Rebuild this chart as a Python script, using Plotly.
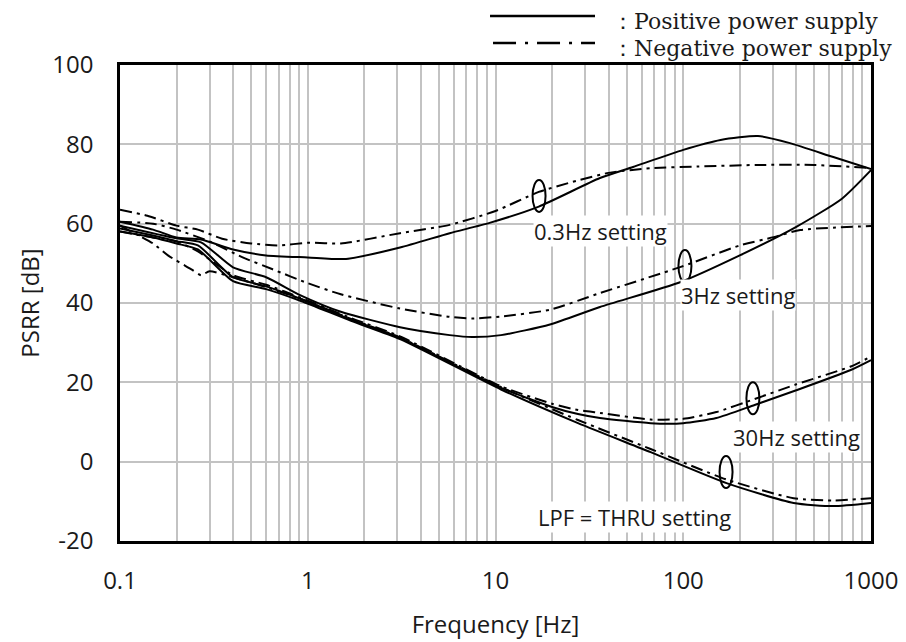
import math
import plotly.graph_objects as go

# ---------------- data ----------------
# 0.3 Hz setting
f_pos_03 = [0.1, 0.15, 0.2, 0.27, 0.4, 0.6, 1.0, 1.6, 3.1, 5.7, 9.3, 17, 36, 54, 100, 158, 250, 370, 630, 1000]
db_pos_03 = [60.5, 58.5, 56.5, 56.0, 53.5, 52.0, 51.5, 51.1, 54.0, 57.6, 60.2, 64.3, 71.5, 74.3, 78.6, 81.1, 82.1, 80.3, 76.8, 73.8]
f_neg_03 = [0.1, 0.14, 0.2, 0.26, 0.35, 0.5, 0.7, 1.0, 1.5, 3.1, 5.7, 10, 17, 27, 40, 67, 120, 250, 500, 1000]
db_neg_03 = [63.5, 62.0, 59.5, 58.5, 56.2, 55.0, 54.5, 55.2, 55.0, 57.6, 59.7, 63.2, 68.0, 70.8, 72.8, 74.0, 74.4, 74.8, 74.8, 74.0]

# 3 Hz setting
f_pos_3 = [0.1, 0.2, 0.27, 0.4, 0.6, 0.91, 1.5, 3.1, 5.7, 7.5, 10.7, 19.5, 36, 97, 200, 400, 700, 1000]
db_pos_3 = [59.5, 56.3, 55.3, 49.0, 46.5, 42.0, 37.8, 33.9, 31.9, 31.4, 31.9, 34.6, 39.0, 45.3, 52.0, 59.2, 66.3, 73.5]
f_neg_3 = [0.1, 0.15, 0.2, 0.3, 0.45, 0.65, 1.0, 1.5, 3.1, 5.7, 7.5, 10.7, 19.5, 36, 97, 200, 303, 420, 1000]
db_neg_3 = [60.5, 60.0, 58.5, 55.5, 51.5, 48.5, 45.0, 42.2, 38.6, 36.5, 36.1, 36.6, 38.3, 42.5, 49.1, 54.5, 56.6, 58.4, 59.4]

# 30 Hz setting
f_pos_30 = [0.1, 0.15, 0.2, 0.26, 0.4, 0.6, 0.92, 1.7, 3.1, 10.7, 20, 27.5, 36, 67, 100, 150, 240, 400, 780, 1000]
db_pos_30 = [58.8, 57.0, 55.6, 54.5, 46.5, 44.2, 41.0, 35.8, 31.2, 18.6, 13.8, 12.0, 11.0, 9.7, 9.7, 11.0, 14.3, 18.0, 23.1, 25.6]
f_neg_30 = [0.1, 0.15, 0.2, 0.26, 0.4, 0.6, 0.92, 1.7, 3.1, 10.7, 20, 27.5, 36, 67, 100, 150, 240, 400, 780, 1000]
db_neg_30 = [58.0, 56.5, 55.5, 53.0, 47.0, 44.6, 41.3, 36.2, 31.6, 19.0, 14.6, 13.0, 12.3, 10.6, 10.8, 12.5, 15.8, 19.5, 24.0, 26.5]

# LPF = THRU setting
f_pos_thru = [0.1, 0.15, 0.2, 0.26, 0.4, 0.6, 0.92, 1.7, 3.1, 10.7, 27.5, 67, 170, 387, 630, 1000]
db_pos_thru = [58.0, 56.5, 55.0, 53.5, 45.5, 43.5, 40.5, 35.5, 30.9, 18.2, 9.7, 2.4, -5.4, -10.4, -11.2, -10.4]
f_neg_thru = [0.1, 0.15, 0.18, 0.24, 0.27, 0.3, 0.4, 0.6, 0.92, 1.7, 3.1, 10.7, 27.5, 67, 170, 387, 630, 1000]
db_neg_thru = [59.5, 55.0, 52.0, 48.5, 47.0, 48.0, 46.5, 44.0, 41.0, 36.0, 31.3, 18.8, 10.5, 3.2, -4.5, -9.2, -9.8, -9.2]

x_tick_vals = [0.1, 1, 10, 100, 1000]
x_tick_text = ["0.1", "1", "10", "100", "1000"]
y_tick_vals = [-20, 0, 20, 40, 60, 80, 100]
y_tick_text = ["-20", "0", "20", "40", "60", "80", "100"]

setting_labels = ["0.3Hz setting", "3Hz setting", "30Hz setting", "LPF = THRU setting"]
legend_labels = ["\uff1aPositive power supply", "\uff1aNegative power supply"]

# ---------------- figure ----------------
DASHDOT = "12px,5px,3px,5px"
fig = go.Figure()

series = [
    (f_pos_03, db_pos_03, "solid"), (f_neg_03, db_neg_03, DASHDOT),
    (f_pos_3, db_pos_3, "solid"), (f_neg_3, db_neg_3, DASHDOT),
    (f_pos_30, db_pos_30, "solid"), (f_neg_30, db_neg_30, DASHDOT),
    (f_pos_thru, db_pos_thru, "solid"), (f_neg_thru, db_neg_thru, DASHDOT),
]
for fx, dy, dash in series:
    fig.add_trace(go.Scatter(
        x=fx, y=dy, mode="lines",
        line=dict(color="black", width=2, dash=dash, shape="spline", smoothing=0.6),
        showlegend=False, hoverinfo="skip",
    ))

minor_vals = [m * 10 ** e for e in range(-1, 3) for m in range(2, 10)]

GRID = "#c3c3c3"
TXT = "#1a1a1a"
fig.update_xaxes(
    type="log", range=[-1, 3],
    tickvals=x_tick_vals, ticktext=x_tick_text,
    showgrid=True, gridcolor=GRID, gridwidth=2,
    minor=dict(tickvals=minor_vals, showgrid=True, gridcolor=GRID, gridwidth=2, ticks=""),
    showline=True, mirror=True, linecolor="black", linewidth=2.5,
    ticks="", ticklabelstandoff=16, ticklabeloverflow="allow",
    tickfont=dict(family="Open Sans", size=24, color=TXT),
    title=dict(text="Frequency [Hz]", font=dict(family="Open Sans", size=24, color=TXT), standoff=22),
    automargin=False, zeroline=False,
)
fig.update_yaxes(
    range=[-20, 100], tickvals=y_tick_vals, ticktext=y_tick_text,
    showgrid=True, gridcolor=GRID, gridwidth=2,
    showline=True, mirror=True, linecolor="black", linewidth=2.5,
    ticks="", ticklabelstandoff=19, ticklabeloverflow="allow",
    tickfont=dict(family="Open Sans", size=24, color=TXT),
    title=dict(text="PSRR [dB]", font=dict(family="Open Sans", size=24, color=TXT), standoff=6),
    automargin=False, zeroline=False,
)

# setting labels (left edge in log10 Hz, vertical centre in dB)
label_pos = [(1.2, 58.1), (1.983, 42.0), (2.26, 6.2), (1.221, -14.0)]
annotations = []
for txt, (lx, ly) in zip(setting_labels, label_pos):
    annotations.append(dict(
        x=lx, y=ly, xref="x", yref="y", text=txt, showarrow=False,
        xanchor="left", yanchor="middle", bgcolor="white", borderpad=0,
        font=dict(family="Open Sans", size=22, color=TXT),
    ))

# legend text (serif) above the plot
for txt, ly in zip(legend_labels, [1.092, 1.034]):
    annotations.append(dict(
        x=0.652, y=ly, xref="paper", yref="paper", text=txt, showarrow=False,
        xanchor="left", yanchor="middle",
        font=dict(family="DejaVu Serif", size=22, color=TXT),
    ))

shapes = []
# legend line samples
shapes.append(dict(type="line", xref="paper", yref="paper", x0=0.4927, x1=0.6325, y0=1.103, y1=1.103,
                   line=dict(color="black", width=2.5)))
shapes.append(dict(type="line", xref="paper", yref="paper", x0=0.4967, x1=0.6325, y0=1.046, y1=1.046,
                   line=dict(color="black", width=2.5, dash="23px,9px,3px,9px")))

# ellipses marking each pair of curves (centre: log10 Hz, dB)
ellipse_pos = [(1.232, 67.0), (2.009, 49.3), (2.371, 16.0), (2.228, -2.6)]
for ex, ey in ellipse_pos:
    shapes.append(dict(
        type="circle", xref="paper", yref="y",
        xsizemode="pixel", ysizemode="pixel",
        xanchor=(ex + 1) / 4, yanchor=ey,
        x0=-6.5, x1=6.5, y0=-16, y1=16,
        line=dict(color="black", width=2),
    ))

# the page body has an 8px margin, so the figure is offset by 8px
fig.update_layout(
    width=890, height=634,
    margin=dict(l=112, r=27, t=57, b=101),
    paper_bgcolor="white", plot_bgcolor="white",
    template="none",
    annotations=annotations, shapes=shapes,
    showlegend=False,
)

fig.write_html("out.html")
